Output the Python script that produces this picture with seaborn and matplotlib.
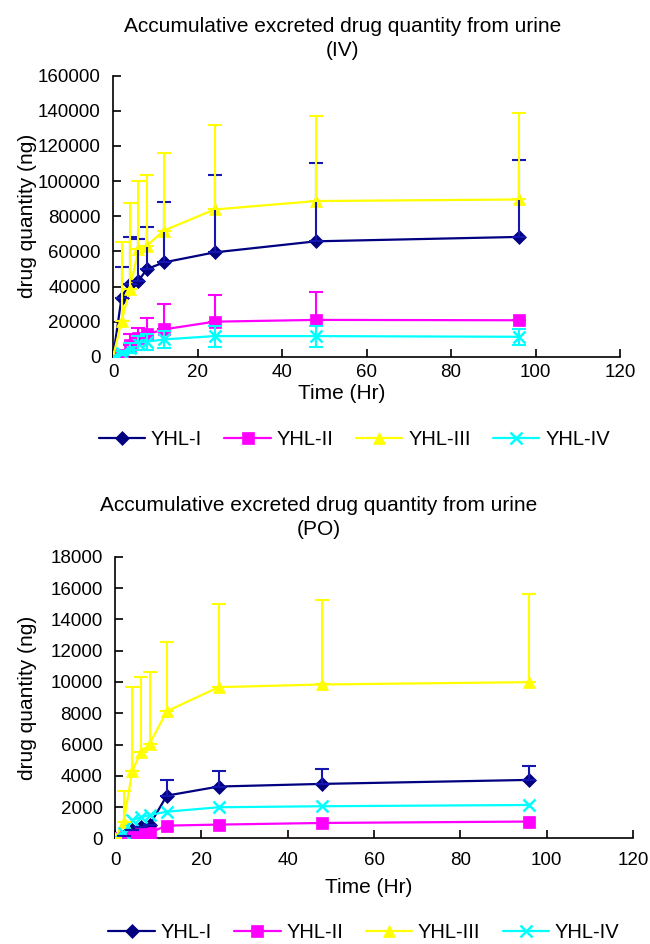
import numpy as np
import pandas as pd
import matplotlib
matplotlib.use("Agg")
import matplotlib.pyplot as plt
import seaborn as sns
from matplotlib.lines import Line2D

sns.set_theme(style="white")
plt.rcParams['font.family'] = ['Liberation Sans', 'DejaVu Sans']
plt.rcParams['text.color'] = 'black'

time = [0, 2, 4, 6, 8, 12, 24, 48, 96]
compounds = ["YHL-I", "YHL-II", "YHL-III", "YHL-IV"]

# IV means
iv_I = [0, 33700, 41700, 43200, 49900, 53700, 59400, 65700, 68200]
iv_II = [0, 1000, 7000, 10900, 12800, 15600, 20000, 21000, 20800]
iv_III = [0, 20400, 38500, 61300, 63200, 71800, 83800, 88600, 89500]
iv_IV = [0, 2300, 5100, 8000, 8600, 9900, 11800, 11800, 11400]
# IV upper cap positions
iv_I_cap = [0, 50900, 68000, 67000, 73700, 88000, 103400, 110100, 112200]
iv_II_cap = [0, 1000, 12800, 16600, 22300, 30300, 35200, 36600, 20800]
iv_III_cap = [0, 65100, 87400, 100000, 103200, 116200, 131800, 136800, 138700]
iv_IV_err = [0, 1000, 3000, 4000, 4500, 5000, 6000, 6000, 4500]

# PO means
po_I = [0, 170, 530, 745, 850, 2730, 3310, 3480, 3735]
po_II = [0, 100, 210, 280, 360, 810, 875, 980, 1070]
po_III = [0, 1025, 4330, 5500, 6040, 8130, 9670, 9840, 9990]
po_IV = [0, 320, 1170, 1340, 1490, 1700, 1985, 2050, 2130]
# PO upper cap positions
po_I_cap = [0, 170, 530, 745, 850, 3735, 4330, 4440, 4610]
po_III_cap = [0, 3050, 9670, 10300, 10630, 12550, 15000, 15220, 15600]

colors = {"YHL-I": "#000080", "YHL-II": "#FF00FF", "YHL-III": "#FFFF00", "YHL-IV": "#00FFFF"}
ecolors = {"YHL-I": "#1515B0", "YHL-II": "#FF00FF", "YHL-III": "#FFFF00", "YHL-IV": "#00FFFF"}
markers = {"YHL-I": "D", "YHL-II": "s", "YHL-III": "^", "YHL-IV": "x"}
msizes = {"YHL-I": 7.5, "YHL-II": 8.5, "YHL-III": 8.5, "YHL-IV": 9}

fig = plt.figure(figsize=(6.5, 9.44), dpi=100)
ax1 = fig.add_axes([0.174, 0.622, 0.780, 0.298])
ax2 = fig.add_axes([0.177, 0.112, 0.797, 0.298])

def build(series):
    rows = []
    for c, vals in zip(compounds, series):
        for t, v in zip(time, vals):
            rows.append({"time": t, "value": v, "compound": c})
    return pd.DataFrame(rows)

def draw(ax, series, errs, ymax, ystep, xlab_x, xlab_y, xpad):
    df = build(series)
    for c in compounds:
        sub = df[df.compound == c]
        sns.lineplot(data=sub, x="time", y="value", ax=ax, color=colors[c],
                     marker=markers[c], markersize=msizes[c], markeredgecolor=colors[c],
                     markeredgewidth=1.8 if c == "YHL-IV" else 0.5,
                     linewidth=1.6, legend=False, zorder=3)
    for c, (lo, up) in errs.items():
        ax.errorbar(time, series[compounds.index(c)], yerr=[lo, up], fmt="none",
                    ecolor=ecolors[c], elinewidth=1.5, capsize=5, capthick=1.5, zorder=4)
    ax.set_xlim(0, 120)
    ax.set_ylim(0, ymax)
    ax.set_xticks(range(0, 121, 20))
    ax.set_yticks(np.arange(0, ymax + 1, ystep))
    ax.set_yticklabels([str(int(v)) for v in np.arange(0, ymax + 1, ystep)])
    for s in ["top", "right"]:
        ax.spines[s].set_visible(False)
    for s in ["left", "bottom"]:
        ax.spines[s].set_color("black")
        ax.spines[s].set_linewidth(1.2)
    ax.tick_params(axis="both", direction="in", length=6, width=1.2, colors="black",
                   labelsize=13.5, left=True, bottom=True)
    ax.tick_params(axis="y", pad=9)
    ax.tick_params(axis="x", pad=xpad)
    ax.set_xlabel("Time (Hr)", fontsize=15, color="black")
    ax.xaxis.set_label_coords(xlab_x, xlab_y)
    ax.set_ylabel("drug quantity (ng)", fontsize=15, color="black")
    ax.yaxis.set_label_coords(-0.15, 0.5)
    handles = [Line2D([0], [0], color=colors[c], marker=markers[c], markersize=msizes[c],
                      markeredgecolor=colors[c], markeredgewidth=1.8 if c == "YHL-IV" else 0.5,
                      linewidth=1.6) for c in compounds]
    return handles

zeros = [0] * len(time)
iv_errs = {
    "YHL-I": (zeros, [a - b for a, b in zip(iv_I_cap, iv_I)]),
    "YHL-II": (zeros, [a - b for a, b in zip(iv_II_cap, iv_II)]),
    "YHL-III": (zeros, [a - b for a, b in zip(iv_III_cap, iv_III)]),
    "YHL-IV": (iv_IV_err, iv_IV_err),
}
po_errs = {
    "YHL-I": (zeros, [a - b for a, b in zip(po_I_cap, po_I)]),
    "YHL-III": (zeros, [a - b for a, b in zip(po_III_cap, po_III)]),
}

h1 = draw(ax1, [iv_I, iv_II, iv_III, iv_IV], iv_errs, 160000, 20000, 0.45, -0.095, 5)
h2 = draw(ax2, [po_I, po_II, po_III, po_IV], po_errs, 18000, 2000, 0.49, -0.14, 10)

fig.text(0.527, 0.959, "Accumulative excreted drug quantity from urine\n(IV)",
         ha="center", va="center", fontsize=15, linespacing=1.3, color="black")
fig.text(0.49, 0.452, "Accumulative excreted drug quantity from urine\n(PO)",
         ha="center", va="center", fontsize=15, linespacing=1.3, color="black")

fig.legend(h1, compounds, loc="center", bbox_to_anchor=(0.545, 0.534), ncol=4,
           frameon=False, fontsize=14.5, handlelength=2.3, columnspacing=1.1,
           handletextpad=0.3, labelcolor="black")
fig.legend(h2, compounds, loc="center", bbox_to_anchor=(0.56, 0.012), ncol=4,
           frameon=False, fontsize=14.5, handlelength=2.3, columnspacing=1.1,
           handletextpad=0.3, labelcolor="black")

fig.savefig("out.png", dpi=100)
